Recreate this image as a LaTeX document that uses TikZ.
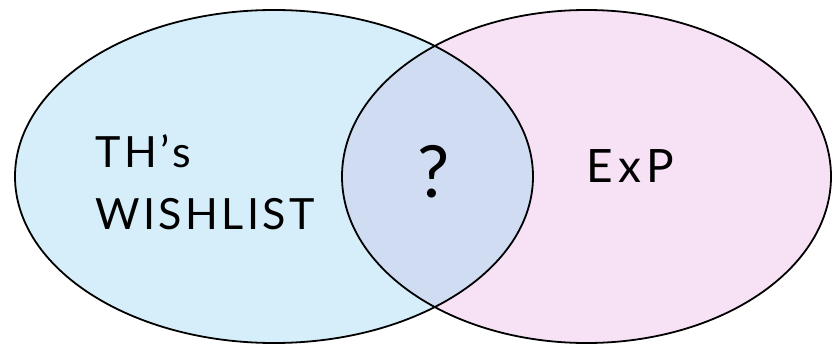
\documentclass[tikz,border=0pt]{standalone}
\usepackage{fontspec}
\setmainfont{Lato}
\definecolor{leftfill}{RGB}{214,238,249}
\definecolor{rightfill}{RGB}{247,226,245}
\definecolor{midfill}{RGB}{208,220,242}
\begin{document}
\begin{tikzpicture}[x=1pt,y=-1pt,
  outline/.style={draw=black,line width=1.8pt},
  handtext/.style={font=\fontsize{43}{62}\selectfont\addfontfeature{LetterSpace=8},text=black,inner sep=0pt}]
\useasboundingbox (0,0) rectangle (832,345);
\def\leftset{(274,176.5) ellipse [x radius=259, y radius=166.5]}
\def\rightset{(586.5,176.5) ellipse [x radius=244.5, y radius=166.5]}
\fill[leftfill] \leftset;
\fill[rightfill] \rightset;
\begin{scope}
  \clip \leftset;
  \fill[midfill] \rightset;
\end{scope}
\draw[outline] \leftset;
\draw[outline] \rightset;
\node[handtext,anchor=west,align=left] (wish) at (95,182) {TH's\\WISHLIST};
\node[handtext,font=\fontsize{72}{80}\selectfont] (q) at (434,172) {?};
\node[handtext,anchor=west,font=\fontsize{46}{50}\selectfont\addfontfeature{LetterSpace=12}] (exp) at (586,166) {ExP};
\end{tikzpicture}
\end{document}
